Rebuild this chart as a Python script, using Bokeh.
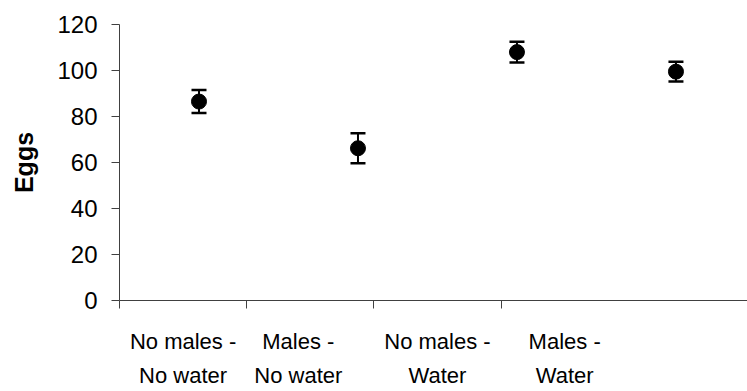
from bokeh.plotting import figure
from bokeh.models import ColumnDataSource, Whisker, TeeHead, FixedTicker, CustomJSTickFormatter, Range1d
from bokeh.embed import file_html
from bokeh.resources import INLINE

# ---- data ----
treatments = ["No males -\nNo water", "Males -\nNo water", "No males -\nWater", "Males -\nWater"]
eggs_mean = [86.5, 66.2, 108.0, 99.5]
eggs_err = [5.0, 6.5, 4.5, 4.3]
y_ticks = [0, 20, 40, 60, 80, 100, 120]

# ---- layout ----
n = len(treatments)
xs = [i + 0.5 for i in range(n)]
upper = [m + e for m, e in zip(eggs_mean, eggs_err)]
lower = [m - e for m, e in zip(eggs_mean, eggs_err)]
src = ColumnDataSource(dict(x=xs, y=eggs_mean, upper=upper, lower=lower))

cat_w = 0.8  # category band width on the value axis (5 bands over 0..4)
boundaries = [i * cat_w for i in range(n)]
label_pos = [(i + 0.5) * cat_w for i in range(n)]
label_pos[1] -= 0.075

FONT = "Liberation Sans"
AX = "#404040"

p = figure(width=747, height=391, output_backend="svg", toolbar_location=None,
           x_range=Range1d(0, 3.95), y_range=Range1d(0, 120),
           min_border_left=119, min_border_right=0, min_border_top=24, min_border_bottom=88)
p.outline_line_color = None
p.grid.visible = False
p.background_fill_color = "white"
p.border_fill_color = "white"

# whiskers
w = Whisker(source=src, base="x", upper="upper", lower="lower", dimension="height",
            line_color="black", line_width=2,
            upper_head=TeeHead(size=15, line_color="black", line_width=2.5),
            lower_head=TeeHead(size=15, line_color="black", line_width=2.5))
p.add_layout(w)
p.scatter("x", "y", source=src, size=15, color="black")

# y axis
ya = p.yaxis[0]
ya.ticker = FixedTicker(ticks=y_ticks)
ya.minor_tick_line_color = None
ya.major_tick_in = 0
ya.major_tick_out = 8
ya.major_tick_line_color = AX
ya.axis_line_color = AX
ya.major_label_text_font = FONT
ya.major_label_text_font_size = "24px"
ya.major_label_text_color = "black"
ya.major_label_standoff = 14
ya.axis_label = "Eggs"
ya.axis_label_text_font = FONT
ya.axis_label_text_font_style = "bold"
ya.axis_label_text_font_size = "25px"
ya.axis_label_text_color = "black"
ya.axis_label_standoff = 16

# x axis
xa = p.xaxis[0]
xa.ticker = FixedTicker(ticks=label_pos, minor_ticks=boundaries)
xa.formatter = CustomJSTickFormatter(args=dict(labels=treatments), code="return labels[index];")
xa.major_tick_line_color = None
xa.major_tick_in = 0
xa.major_tick_out = 8
xa.minor_tick_in = 0
xa.minor_tick_out = 8
xa.minor_tick_line_color = AX
xa.axis_line_color = AX
xa.major_label_text_font = FONT
xa.major_label_text_font_size = "22px"
xa.major_label_text_color = "black"
xa.major_label_text_line_height = 1.38
xa.major_label_standoff = 20

open("out.html", "w").write(file_html(p, INLINE))
